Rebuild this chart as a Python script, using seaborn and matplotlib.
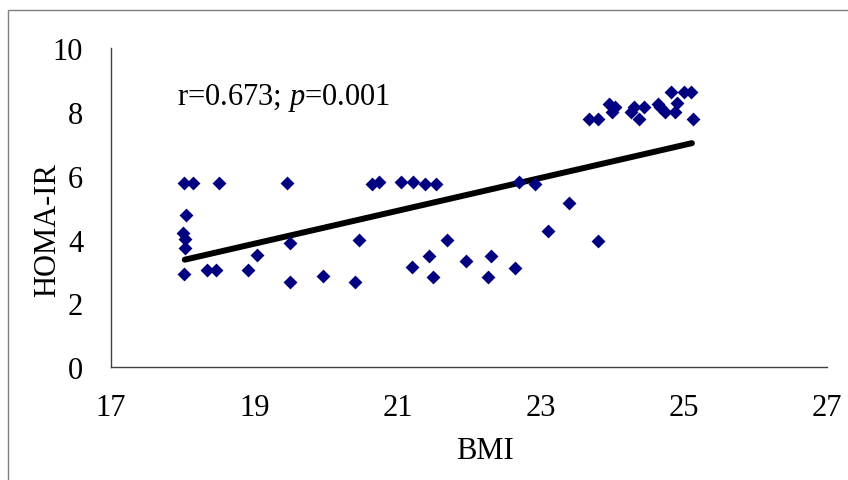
import matplotlib
matplotlib.use("Agg")
import matplotlib.pyplot as plt
import matplotlib.patches as mpatches
import seaborn as sns
import numpy as np
import pandas as pd

# ---- data ----
bmi = [18.02, 18.14, 18.51, 19.46, 18.05, 18.01, 18.03, 18.04, 18.02, 18.34,
       18.46, 18.91, 19.04, 19.50, 19.50, 19.96,
       20.46, 20.41, 20.64, 20.74, 21.05, 21.21, 21.38, 21.54, 21.20, 21.44,
       21.50, 21.69, 21.95, 22.26, 22.30, 22.64, 22.69, 22.92, 23.10, 23.40,
       23.80,
       23.67, 23.80, 23.95, 24.04, 24.00, 24.30, 24.26, 24.44, 24.37, 24.63,
       24.66, 24.74, 24.82, 24.90, 24.87, 25.00, 25.10, 25.13]
homa = [5.76, 5.76, 5.76, 5.76, 4.78, 4.21, 4.02, 3.75, 2.92, 3.05,
        3.05, 3.05, 3.51, 3.88, 2.68, 2.87,
        3.99, 2.68, 5.74, 5.79, 5.79, 5.79, 5.73, 5.73, 3.15, 3.50,
        2.82, 3.99, 3.34, 2.82, 3.50, 3.10, 5.79, 5.73, 4.28, 5.15,
        3.97,
        7.78, 7.78, 8.24, 8.16, 7.98, 8.16, 8.00, 8.16, 7.78, 8.24,
        8.16, 8.00, 8.61, 8.27, 7.98, 8.61, 8.61, 7.78]
# linear trend line as drawn in the reference (endpoints)
trend_bmi = [18.03, 25.11]
trend_homa = [3.37, 7.02]
x_ticks = [17, 19, 21, 23, 25, 27]
y_ticks = [0, 2, 4, 6, 8, 10]
x_label = "BMI"
y_label = "HOMA-IR"
annotation = r"r=0.673; $p$=0.001"

df = pd.DataFrame({"BMI": bmi, "HOMA-IR": homa})
trend = pd.DataFrame({"BMI": trend_bmi, "HOMA-IR": trend_homa})

sns.set_theme(style="white")
plt.rcParams["font.family"] = ["Liberation Serif", "DejaVu Serif"]
plt.rcParams["mathtext.fontset"] = "custom"
plt.rcParams["mathtext.rm"] = "Liberation Serif"
plt.rcParams["mathtext.it"] = "Liberation Serif:italic"

fig = plt.figure(figsize=(8.48, 4.81), dpi=100)
ax = fig.add_axes([111 / 848, 1 - 368.3 / 481, (827.3 - 111) / 848, (368.3 - 49) / 481])

sns.scatterplot(data=df, x="BMI", y="HOMA-IR", ax=ax, marker="D", s=50,
                color="#000080", edgecolor="#000080", linewidth=0, zorder=3)
sns.lineplot(data=trend, x="BMI", y="HOMA-IR", ax=ax, color="black",
             lw=4.3, solid_capstyle="round", zorder=2)

ax.set_xlim(17, 27)
ax.set_ylim(0, 10)
ax.set_xticks(x_ticks)
ax.set_yticks(y_ticks)
ax.set_xticklabels([str(t) for t in x_ticks])
ax.set_yticklabels([str(t) for t in y_ticks])

for s in ["top", "right"]:
    ax.spines[s].set_visible(False)
for s in ["left", "bottom"]:
    ax.spines[s].set_color("#404040")
    ax.spines[s].set_linewidth(1.0)

ax.tick_params(axis="both", direction="out", length=6.5, width=0.9,
               colors="#404040", labelcolor="black", labelsize=22)
ax.tick_params(axis="y", pad=13.5)
ax.tick_params(axis="x", pad=12.0)

ax.set_xlabel(x_label, fontsize=22, color="black")
ax.set_ylabel(y_label, fontsize=22, color="black")
ax.xaxis.set_label_coords((485 - 111) / 716.3, (368.3 - 437) / 319.3)
ax.yaxis.set_label_coords((62 - 111) / 716.3, (368.3 - 230) / 319.3)
ax.xaxis.label.set_va("top")
ax.yaxis.label.set_va("bottom")

ax.text(17.92, 8.25, annotation, fontsize=22, color="black",
        ha="left", va="baseline")

# outer chart-area frame
frame = mpatches.Rectangle((8 / 848, -0.2), 1.5, 1.2 - 11 / 481,
                           transform=fig.transFigure, fill=False,
                           edgecolor="#7f7f7f", lw=1.0)
fig.patches.append(frame)

fig.savefig("out.png", dpi=100)
